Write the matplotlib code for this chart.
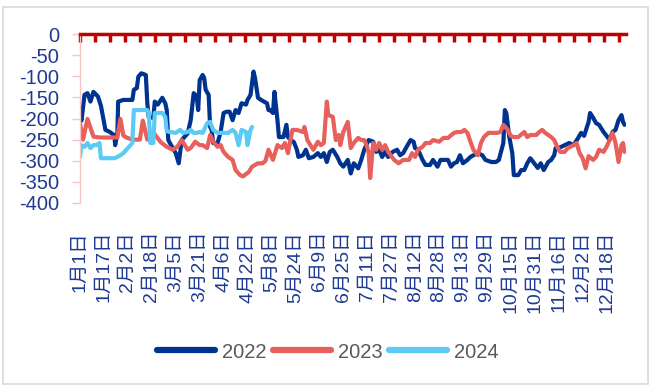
import matplotlib
matplotlib.use("Agg")
import matplotlib.pyplot as plt
from matplotlib.patches import Rectangle

# Day-of-year positions (0 = 1月1日) and spread values for each year
days_2022 = [0, 1, 3, 5, 7, 9, 12, 14, 17, 20, 23, 23.5, 25, 25.5, 29, 35, 36, 38, 39, 41, 44, 45,
             46, 49, 50, 52, 55, 57, 58, 59, 62, 64, 66, 68, 72, 74, 76, 78, 79, 80, 82, 83, 84,
             86, 87, 88, 89, 92, 94, 96, 98, 100, 102, 104, 106, 108, 111, 112, 114, 116, 117,
             119, 121, 123, 125, 126, 127, 129, 130, 132, 133, 136, 138, 139, 141, 143, 145, 146,
             149, 151, 153, 156, 159, 161, 163, 165, 167, 169, 172, 174, 176, 179, 181, 183, 186,
             188, 190, 193, 196, 198, 200, 202, 204, 206, 209, 212, 214, 216, 219, 221, 223, 224,
             226, 229, 231, 234, 236, 239, 241, 246, 248, 250, 252, 254, 256, 259, 261, 263, 266,
             269, 271, 275, 278, 280, 283, 284, 285, 287, 289, 290, 293, 295, 297, 299, 301, 303,
             306, 308, 310, 313, 315, 317, 318, 320, 324, 327, 330, 333, 335, 337, 340, 341, 343,
             345, 347, 350, 352, 354, 356, 358, 360, 362, 363, 364]
vals_2022 = [-195, -205, -144, -140, -160, -137, -148, -170, -227, -232, -240, -263, -235, -160,
             -156, -156, -132, -128, -101, -93, -97, -164, -198, -198, -160, -167, -151, -164, -180,
             -251, -270, -282, -306, -251, -235, -204, -140, -148, -180, -109, -97, -104, -132,
             -144, -220, -227, -258, -258, -232, -187, -184, -184, -204, -180, -187, -164, -167,
             -156, -144, -89, -104, -151, -156, -160, -164, -180, -180, -187, -137, -204, -244,
             -244, -215, -244, -251, -256, -274, -291, -287, -274, -294, -291, -282, -291, -282,
             -303, -279, -274, -291, -306, -314, -298, -330, -306, -318, -298, -274, -251, -255,
             -279, -274, -291, -279, -291, -279, -274, -287, -282, -263, -251, -255, -270, -274,
             -298, -310, -310, -298, -314, -298, -298, -314, -306, -303, -287, -306, -298, -291,
             -287, -282, -287, -298, -303, -303, -298, -258, -180, -187, -244, -282, -334, -334,
             -322, -322, -306, -294, -303, -317, -306, -322, -303, -298, -287, -270, -270, -263,
             -258, -263, -246, -234, -241, -208, -187, -198, -211, -215, -232, -241, -251, -232,
             -227, -204, -192, -208, -215]

days_2023 = [0, 2, 5, 9, 13, 20, 25, 27, 29, 31, 35, 40, 42, 45, 49, 54, 58, 62, 65, 68, 72, 74,
             77, 80, 82, 85, 87, 89, 92, 94, 96, 99, 102, 104, 107, 109, 113, 115, 119, 122, 124,
             126, 129, 132, 135, 137, 139, 142, 145, 149, 150, 152, 154, 156, 159, 161, 163, 165,
             166, 169, 171, 173, 174, 176, 179, 181, 183, 186, 188, 190, 192, 193, 194, 196, 198,
             200, 202, 204, 206, 210, 213, 216, 220, 222, 224, 226, 229, 231, 234, 236, 240, 243,
             246, 250, 252, 255, 257, 259, 261, 263, 266, 268, 270, 273, 276, 279, 281, 283, 286,
             288, 290, 293, 297, 299, 301, 305, 307, 309, 311, 315, 317, 319, 321, 324, 326, 330,
             332, 334, 336, 338, 340, 343, 345, 347, 350, 352, 354, 356, 358, 360, 362, 363, 364]
vals_2023 = [-211, -250, -201, -243, -245, -245, -245, -201, -240, -245, -250, -250, -205, -250,
             -233, -256, -267, -274, -267, -251, -274, -270, -255, -263, -263, -270, -239, -255,
             -267, -263, -279, -291, -298, -322, -334, -337, -326, -314, -306, -306, -300, -274,
             -298, -263, -270, -258, -282, -227, -227, -232, -220, -251, -263, -274, -255, -263,
             -258, -160, -192, -196, -251, -239, -263, -232, -208, -270, -258, -246, -251, -251,
             -267, -282, -341, -258, -274, -258, -274, -263, -279, -298, -306, -298, -298, -282,
             -291, -274, -267, -258, -258, -251, -255, -246, -246, -234, -232, -232, -227, -234,
             -255, -274, -287, -258, -244, -234, -234, -234, -232, -215, -227, -241, -244, -244,
             -232, -244, -239, -239, -232, -227, -234, -244, -251, -267, -279, -279, -270, -263,
             -258, -282, -294, -318, -289, -298, -291, -274, -279, -267, -251, -234, -258, -303,
             -263, -258, -279]

days_2024 = [0, 1, 3, 5, 7, 9, 11, 13, 14, 20, 23, 25, 27, 29, 32, 35, 36, 40, 45, 46, 47, 49,
             50, 55, 57, 58, 60, 64, 67, 69, 72, 74, 76, 78, 80, 82, 85, 87, 89, 92, 96, 99, 102,
             104, 106, 108, 111, 112, 114, 115]
vals_2024 = [-291, -263, -267, -258, -270, -263, -263, -258, -294, -294, -294, -291, -287, -282,
             -270, -258, -180, -180, -180, -187, -258, -258, -187, -187, -196, -230, -232, -234,
             -227, -234, -232, -227, -234, -234, -232, -234, -211, -208, -227, -234, -234, -234,
             -227, -234, -263, -227, -232, -263, -227, -220]

series_names = ["2022", "2023", "2024"]
series_colors = ["#00338F", "#E8605C", "#5BCBF5"]

tick_days = list(range(0, 366, 16))
tick_labels = ["1月1日", "1月17日", "2月2日", "2月18日", "3月5日", "3月21日", "4月6日",
               "4月22日", "5月8日", "5月24日", "6月9日", "6月25日", "7月11日", "7月27日",
               "8月12日", "8月28日", "9月13日", "9月29日", "10月15日", "10月31日", "11月16日",
               "12月2日", "12月18日"]
y_ticks = list(range(0, -401, -50))

plt.rcParams["font.family"] = ["Liberation Sans", "Noto Sans CJK SC", "DejaVu Sans"]

W, H = 652, 387
fig = plt.figure(figsize=(W / 100, H / 100), dpi=100)
ax = fig.add_axes([80 / W, 1 - 203 / H, 546 / W, 169 / H])

for d, v, name, c in zip([days_2022, days_2023, days_2024],
                         [vals_2022, vals_2023, vals_2024],
                         series_names, series_colors):
    ax.plot(d, v, color=c, lw=3.0, label=name, solid_joinstyle="round", solid_capstyle="round")

ax.set_xlim(0, 365)
ax.set_ylim(-400, 0)

# y axis: pale pink spine with outward ticks, blue labels
ax.set_yticks(y_ticks)
ax.set_yticklabels([str(t) for t in y_ticks])
ax.tick_params(axis="y", direction="out", length=6, width=1, color="#F4C6C6",
               labelcolor="#1F3A93", labelsize=14.5, pad=9)
ax.spines["left"].set_color("#F4C6C6")
ax.spines["left"].set_linewidth(1)
ax.spines["right"].set_visible(False)
ax.spines["bottom"].set_visible(False)

# zero line on top in red
ax.spines["top"].set_color("#C00000")
ax.spines["top"].set_linewidth(2.5)

# date labels below the plot, no tick marks
ax.set_xticks(tick_days)
ax.set_xticklabels(tick_labels, rotation=90, ha="center", va="top")
ax.tick_params(axis="x", bottom=False, top=False, length=0, labelcolor="#1F3A93",
               labelsize=14, pad=20)

# red tick marks along the zero line every 10 days
top = ax.secondary_xaxis("top")
top.set_xticks(list(range(0, 366, 10)))
top.set_xticklabels([])
top.tick_params(direction="in", length=6, width=2.5, color="#C00000")
top.spines["top"].set_visible(False)

leg = fig.legend(loc="center", bbox_to_anchor=(328 / W, 1 - 352 / H), ncol=3, frameon=False,
                 fontsize=14.5, handlelength=2.9, handletextpad=0.35, columnspacing=0.3,
                 borderaxespad=0)
for line in leg.get_lines():
    line.set_linewidth(4.5)
for t in leg.get_texts():
    t.set_color("#595959")

# light grey frame round the figure
fig.patches.append(Rectangle((3 / W, 3 / H), 645 / W, 377 / H, transform=fig.transFigure,
                             fill=False, edgecolor="#D9D9D9", linewidth=1.2))

fig.savefig("out.png", dpi=100)
